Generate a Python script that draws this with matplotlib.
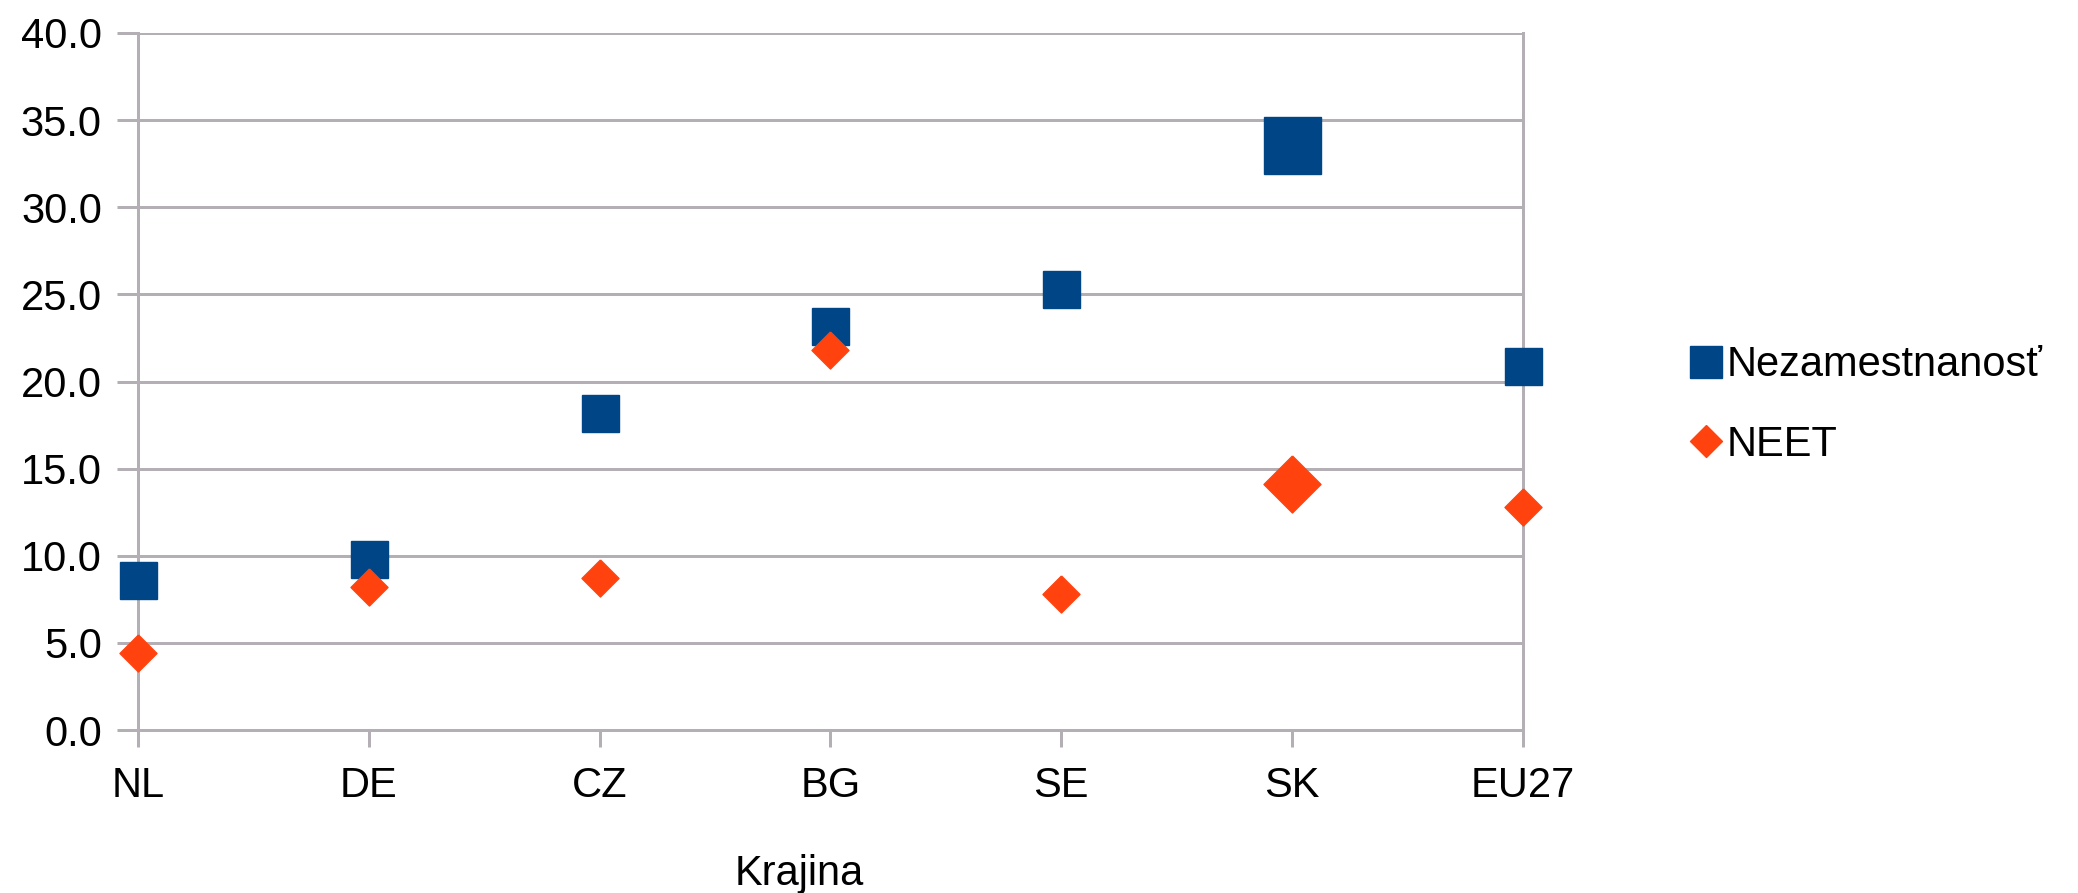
import matplotlib
matplotlib.use('Agg')
import matplotlib.pyplot as plt
from matplotlib.lines import Line2D

# data
countries = ['NL', 'DE', 'CZ', 'BG', 'SE', 'SK', 'EU27']
unemployment = [8.6, 9.8, 18.2, 23.2, 25.3, 33.6, 20.9]
neet = [4.4, 8.2, 8.7, 21.8, 7.8, 14.1, 12.8]
labels = ['Nezamestnanosť', 'NEET']
x_label = 'Krajina'
y_ticks = [0, 5, 10, 15, 20, 25, 30, 35, 40]

# style
blue = '#004586'
orange = '#ff420e'
grid_col = '#b4afb4'
diamond = [(0, 1), (1, 0), (0, -1), (-1, 0), (0, 1)]
marker_px = [37, 37, 37, 37, 37, 57, 37]

plt.rcParams['font.family'] = ['Liberation Sans', 'DejaVu Sans']
plt.rcParams['font.size'] = 30

fig = plt.figure(figsize=(20.78, 8.93), dpi=100)
ax = fig.add_axes([138 / 2078, 1 - 730 / 893, 1385 / 2078, 697 / 893])

xs = list(range(len(countries)))
for i in xs:
    ms = marker_px[i] * 0.72
    ax.plot(xs[i], unemployment[i], marker='s', color=blue, ms=ms, ls='none',
            zorder=3, clip_on=False)
    ax.plot(xs[i], neet[i], marker=diamond, color=orange, ms=ms, ls='none',
            zorder=4, clip_on=False)

ax.set_xlim(0, len(countries) - 1)
ax.set_ylim(0, 40)
ax.set_xticks(xs)
ax.set_xticklabels(countries)
ax.set_yticks(y_ticks)
ax.set_yticklabels([f'{v:.1f}' for v in y_ticks])

for v in y_ticks:
    ax.axhline(v, color=grid_col, lw=2.16, zorder=1)

ax.spines['top'].set_visible(False)
for s in ['left', 'right', 'bottom']:
    ax.spines[s].set_color(grid_col)
    ax.spines[s].set_linewidth(2.16)

ax.tick_params(axis='x', length=12, width=2.16, color=grid_col, pad=14)
ax.tick_params(axis='y', length=15, width=2.16, color=grid_col, pad=11)

fig.text(799 / 2078, 1 - 885 / 893, x_label, ha='center', va='baseline')

handles = [Line2D([], [], marker='s', color=blue, ms=23, ls='none'),
           Line2D([], [], marker=diamond, color=orange, ms=23, ls='none')]
fig.legend(handles, labels, loc='center left', bbox_to_anchor=(0.813, 1 - 405 / 893),
           frameon=False, handlelength=0.8, handletextpad=0.1, labelspacing=0.95,
           borderpad=0, borderaxespad=0)

fig.savefig('out.png', dpi=100)
